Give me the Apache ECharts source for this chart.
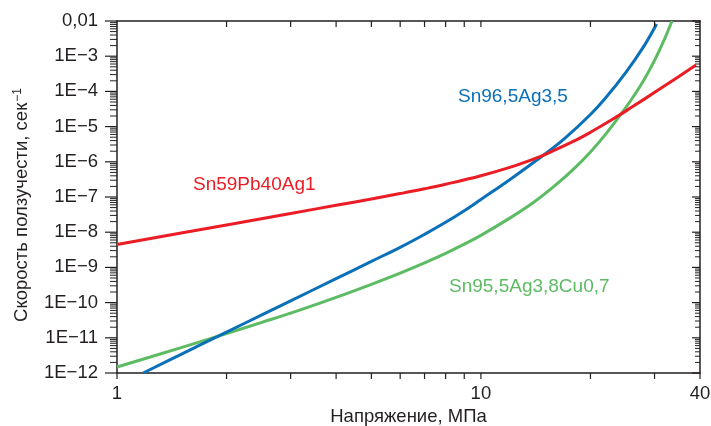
<!DOCTYPE html>
<html><head><meta charset="utf-8">
<script src="https://cdn.jsdelivr.net/npm/echarts@6/dist/echarts.min.js"></script>
<style>html,body{margin:0;padding:0;background:#fff}#c{width:711px;height:426px}</style>
</head><body><div id="c"></div>
<script>
// ---- Data (stress in MPa, creep rate in 1/s) ----
const stressRed = [1, 1.5, 2, 3, 4, 5, 6, 7, 8, 10, 12, 14, 15.1, 18, 20, 23, 26, 30.4, 35, 39];
const rateRed = [4.47e-9, 9.46e-9, 1.61e-8, 3.41e-8, 5.81e-8, 8.77e-8, 1.25e-7, 1.71e-7, 2.30e-7, 4.02e-7, 6.95e-7, 1.21e-6, 1.66e-6, 3.85e-6, 6.89e-6, 1.61e-5, 3.58e-5, 1.02e-4, 2.66e-4, 5.61e-4];

const stressBlue = [1.18, 1.5, 2, 2.5, 3, 4, 5, 6, 7, 8, 9, 10, 12, 15, 17, 20, 22, 25, 28, 30.4];
const rateBlue = [1.0e-12, 3.39e-12, 1.45e-11, 4.47e-11, 1.12e-10, 4.79e-10, 1.48e-9, 3.72e-9, 8.71e-9, 1.91e-8, 4.07e-8, 8.51e-8, 3.09e-7, 1.66e-6, 4.63e-6, 2.21e-5, 6.49e-5, 3.42e-4, 1.87e-3, 8.22e-3];

const stressGreen = [1, 1.5, 2, 2.5, 3, 4, 5, 6, 7, 8, 9, 10, 12, 14, 16, 18, 20, 22, 24, 26, 28, 30, 32, 33.5];
const rateGreen = [1.48e-12, 5.25e-12, 1.32e-11, 2.75e-11, 5.01e-11, 1.41e-10, 3.31e-10, 6.92e-10, 1.35e-9, 2.51e-9, 4.57e-9, 8.13e-9, 2.51e-8, 7.24e-8, 2.14e-7, 6.31e-7, 1.91e-6, 6.03e-6, 1.95e-5, 6.17e-5, 2.04e-4, 7.59e-4, 3.16e-3, 1.0e-2];

const seriesNames = ['Sn59Pb40Ag1', 'Sn96,5Ag3,5', 'Sn95,5Ag3,8Cu0,7'];

// ---- Axis ticks / labels ----
const X_MIN = 1, X_MAX = 40, Y_MIN = 1e-12, Y_MAX = 1e-2;
const xLabelValues = [1, 10, 40];
const xTickValues = [1, 2, 3, 4, 5, 6, 7, 8, 9, 10, 20, 30, 40];
const xTopTickValues = [2, 3, 4, 5, 6, 7, 8, 9, 10, 20, 30];
const yTickValues = [1e-12, 1e-11, 1e-10, 1e-9, 1e-8, 1e-7, 1e-6, 1e-5, 1e-4, 1e-3, 1e-2];
const yTickLabels = ['1E\u221212', '1E\u221211', '1E\u221210', '1E\u22129', '1E\u22128', '1E\u22127', '1E\u22126', '1E\u22125', '1E\u22124', '1E\u22123', '0,01'];
const xTitle = 'Напряжение, МПа';
const yTitle = 'Скорость ползучести, сек{sup|\u22121}';

const minorY = [];
for (let e = -12; e < -2; e++) for (let m = 2; m <= 9; m++) minorY.push(+(m + 'e' + e));

const AX = '#231f20';
const FONT = 'Arial, "Liberation Sans", sans-serif';
const RED = '#ec1c24', BLUE = '#0a70b8', GREEN = '#5dbb63';

function pairs(xs, ys) { return xs.map((x, i) => [x, ys[i]]); }
function yLabel(v) {
  let best = 0, bd = Infinity;
  yTickValues.forEach((t, i) => { const d = Math.abs(Math.log10(v) - Math.log10(t)); if (d < bd) { bd = d; best = i; } });
  return yTickLabels[best];
}

// tick marks as thin rect symbols placed through the axes' own scales
function tickSeries(data, w, h, ox, oy) {
  return {
    type: 'scatter', silent: true, clip: false, z: 5, data: data,
    symbol: 'rect', symbolSize: [w, h], symbolOffset: [ox, oy],
    itemStyle: { color: AX, opacity: 1 }, emphasis: { disabled: true }
  };
}

const baseX = { type: 'log', logBase: 10, min: X_MIN, max: X_MAX, splitLine: { show: false }, minorTick: { show: false }, axisTick: { show: false } };
const baseY = { type: 'log', logBase: 10, min: Y_MIN, max: Y_MAX, splitLine: { show: false }, minorTick: { show: false }, axisTick: { show: false } };
const lineSt = { color: AX, width: 1.5 };

const chart = echarts.init(document.getElementById('c'), null, { renderer: 'canvas' });
chart.setOption({
  animation: false,
  backgroundColor: '#fff',
  grid: { left: 117, right: 11, top: 21, bottom: 53, containLabel: false, outerBoundsMode: 'none' },
  xAxis: [
    Object.assign({}, baseX, {
      position: 'bottom',
      axisLine: { show: true, lineStyle: lineSt },
      axisLabel: { customValues: xLabelValues, formatter: v => String(Math.round(v)), margin: 11, color: AX, fontSize: 18.5, fontFamily: FONT },
      name: xTitle, nameLocation: 'middle', nameGap: 31,
      nameTextStyle: { color: AX, fontSize: 18.5, fontFamily: FONT }
    }),
    Object.assign({}, baseX, {
      position: 'top',
      axisLine: { show: true, lineStyle: lineSt },
      axisLabel: { show: false }
    })
  ],
  yAxis: [
    Object.assign({}, baseY, {
      position: 'left',
      axisLine: { show: true, lineStyle: lineSt },
      axisLabel: { customValues: yTickValues, formatter: yLabel, margin: 19, color: AX, fontSize: 18.5, fontFamily: FONT },
      name: yTitle, nameLocation: 'middle', nameGap: 86, nameRotate: 90,
      nameTextStyle: { color: AX, fontSize: 18.5, fontFamily: FONT, padding: [0, 16, 0, 0],
        rich: { sup: { fontSize: 12, verticalAlign: 'top', color: AX, fontFamily: FONT, padding: [0, 0, 0, 1] } } }
    }),
    Object.assign({}, baseY, {
      position: 'right',
      axisLine: { show: true, lineStyle: lineSt },
      axisLabel: { show: false }
    })
  ],
  series: [
    { name: seriesNames[0], type: 'line', data: pairs(stressRed, rateRed), color: RED, showSymbol: false, smooth: 0.4, lineStyle: { width: 3, color: RED }, z: 3 },
    { name: seriesNames[1], type: 'line', data: pairs(stressBlue, rateBlue), color: BLUE, showSymbol: false, smooth: 0.4, lineStyle: { width: 3, color: BLUE }, z: 2 },
    { name: seriesNames[2], type: 'line', data: pairs(stressGreen, rateGreen), color: GREEN, showSymbol: false, smooth: 0.4, lineStyle: { width: 3, color: GREEN }, z: 1 },
    // left axis: major (outward 12) and minor (outward 7)
    tickSeries(yTickValues.map(v => [X_MIN, v]), 12, 1.2, -6, 0),
    tickSeries(minorY.map(v => [X_MIN, v]), 7, 1, -3.5, 0),
    // right axis: inward
    tickSeries(yTickValues.map(v => [X_MAX, v]), 8, 1.2, -4, 0),
    tickSeries(minorY.map(v => [X_MAX, v]), 5, 1, -2.5, 0),
    // bottom axis: outward
    tickSeries(xTickValues.map(v => [v, Y_MIN]), 1.2, 6, 0, 3),
    // top axis: inward
    tickSeries(xTopTickValues.map(v => [v, Y_MAX]), 1.2, 6, 0, 3)
  ],
  graphic: [
    { type: 'text', x: 193, y: 184.5, style: { text: seriesNames[0], fill: RED, font: '19px ' + FONT, textAlign: 'left', textVerticalAlign: 'middle' } },
    { type: 'text', x: 458, y: 97, style: { text: seriesNames[1], fill: BLUE, font: '19px ' + FONT, textAlign: 'left', textVerticalAlign: 'middle' } },
    { type: 'text', x: 449, y: 287, style: { text: seriesNames[2], fill: GREEN, font: '19px ' + FONT, textAlign: 'left', textVerticalAlign: 'middle' } }
  ]
});
</script></body></html>
